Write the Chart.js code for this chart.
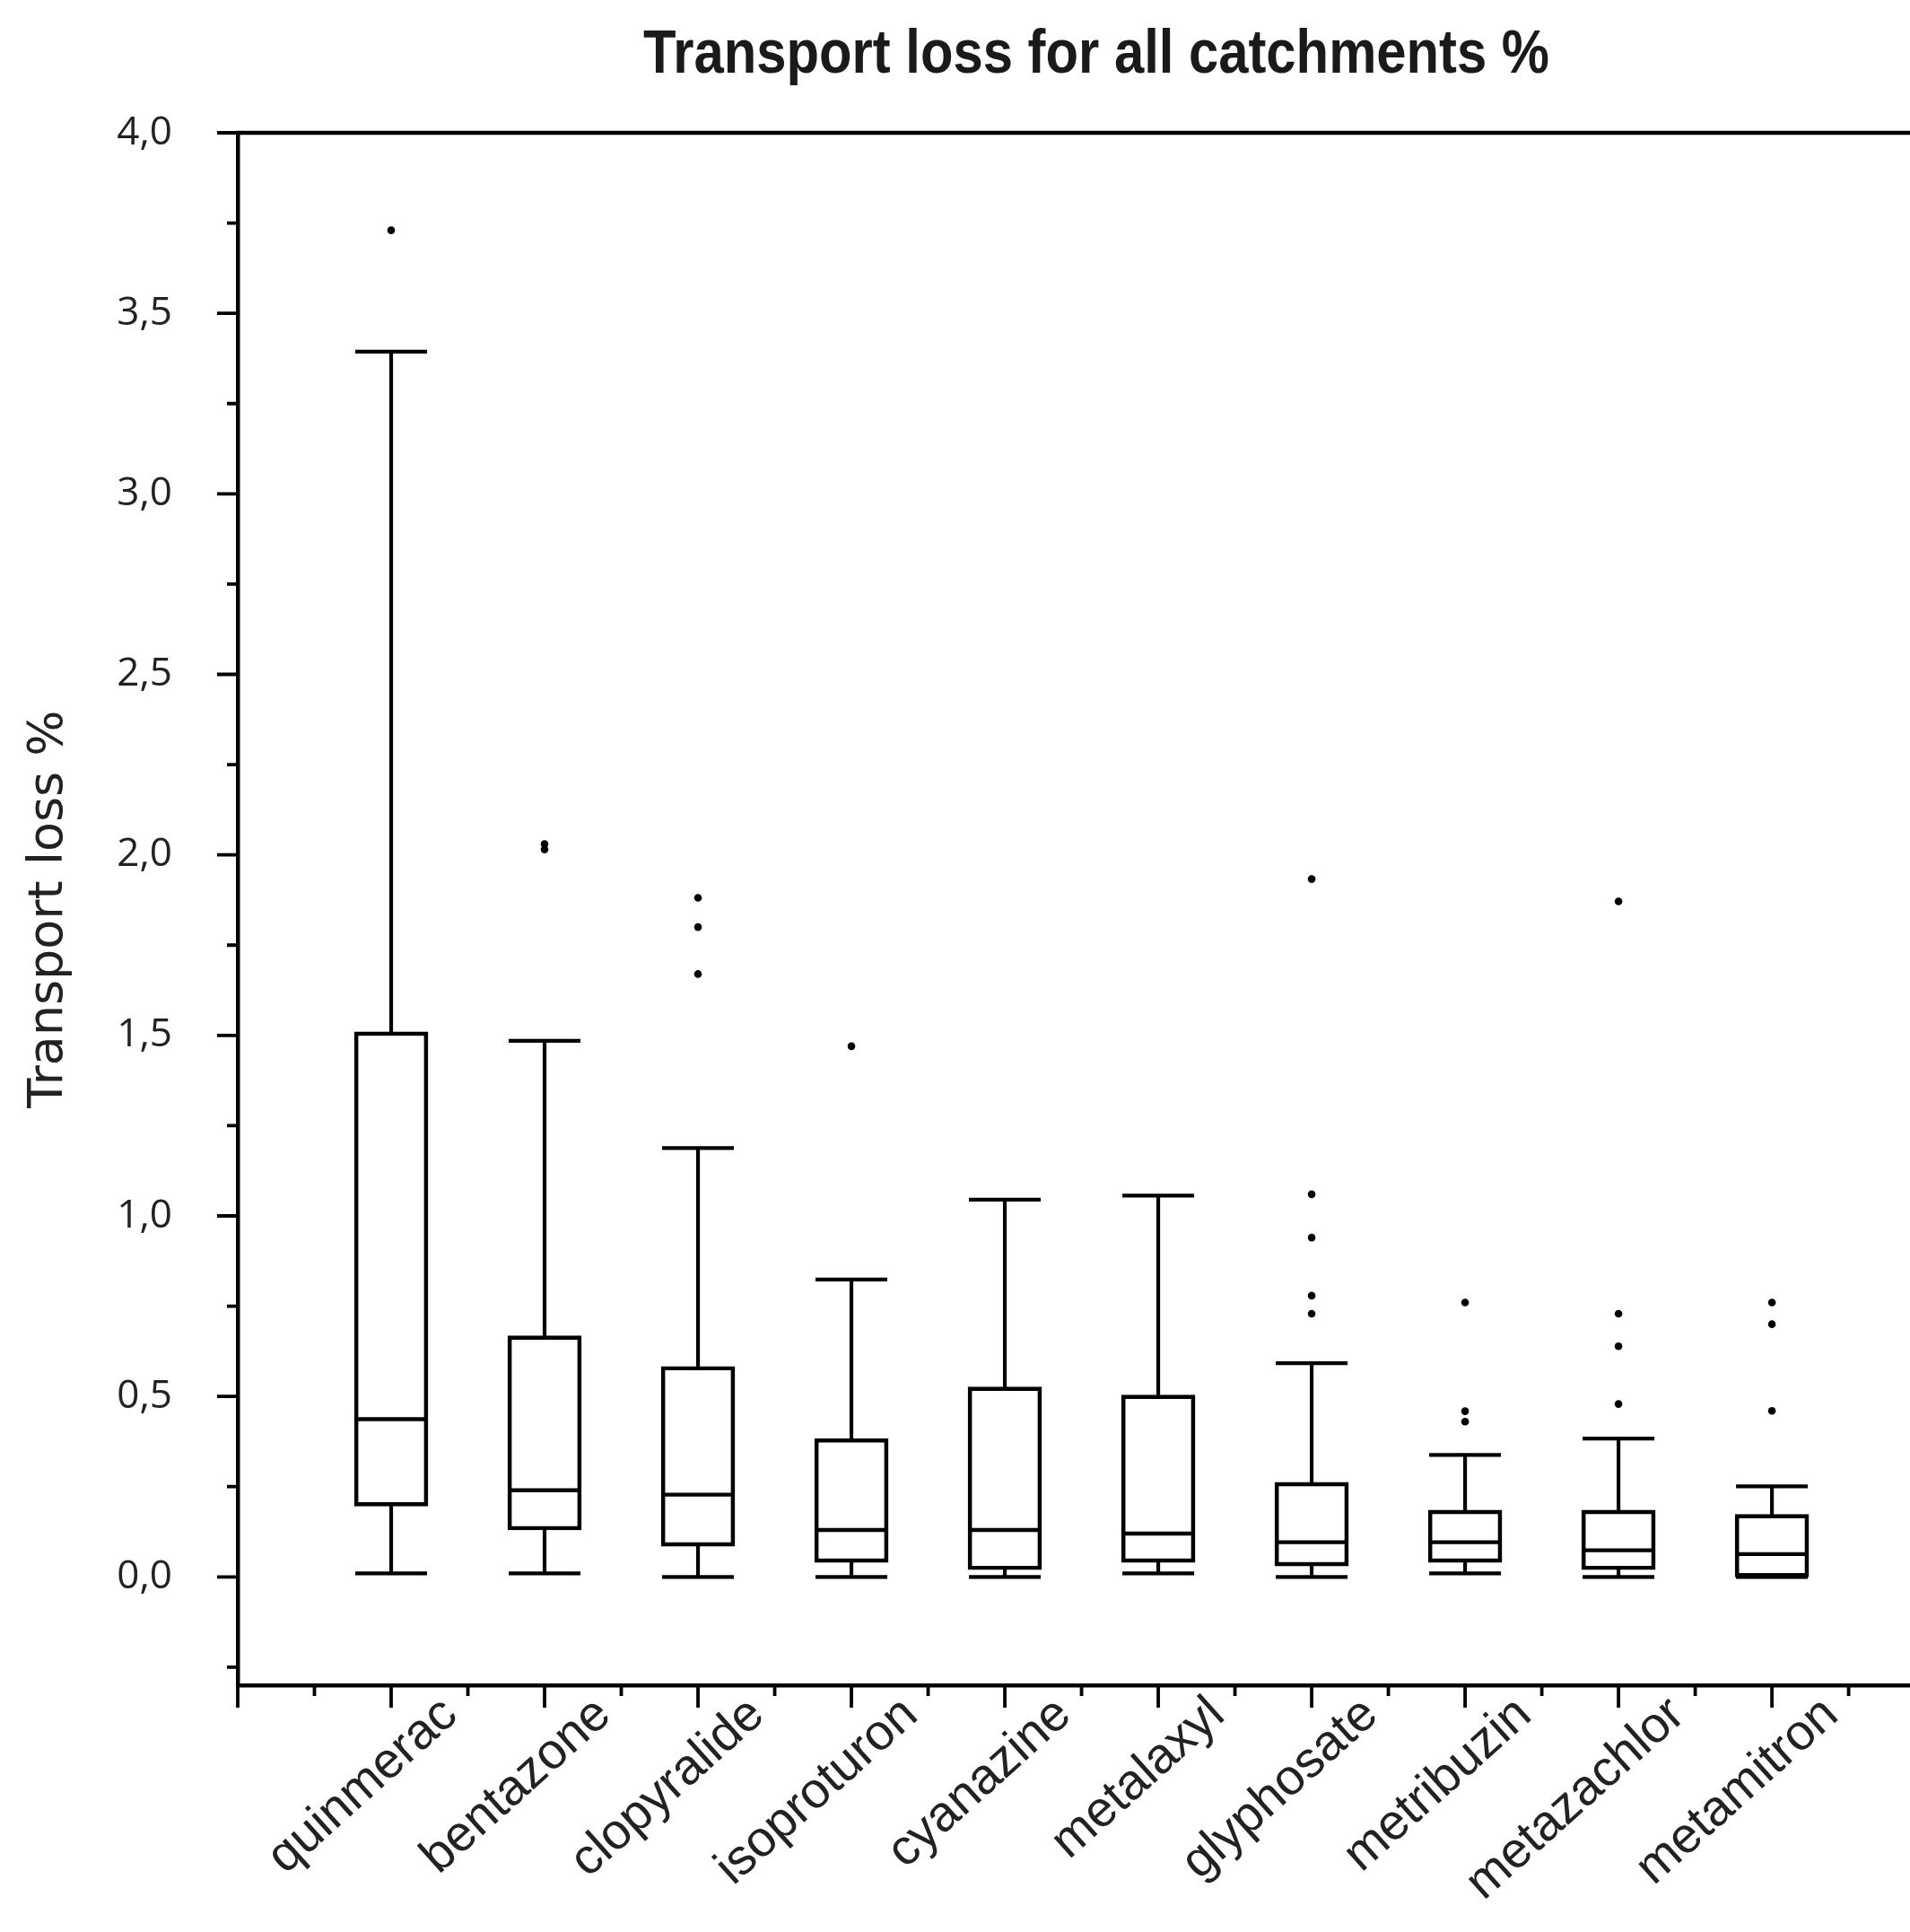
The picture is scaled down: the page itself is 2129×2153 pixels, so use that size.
<!DOCTYPE html>
<html lang="en">
<head>
    <meta charset="UTF-8">
    <title>Transport loss for all catchments %</title>
    <script src="https://cdn.jsdelivr.net/npm/chart.js"></script>
    <style>
        html, body { margin: 0; padding: 0; background: #fff; }
        #chart { display: block; }
    </style>
</head>
<body>
    <canvas id="chart" width="2129" height="2153"></canvas>

    <script>
        // values (transport loss, %)
        const categories = ["quinmerac", "bentazone", "clopyralide", "isoproturon", "cyanazine",
                            "metalaxyl", "glyphosate", "metribuzin", "metazachlor", "metamitron"];
        const whiskerLow  = [0.01, 0.01, 0.0, 0.0, 0.0, 0.01, 0.0, 0.01, 0.0, 0.0];
        const q1          = [0.196, 0.13, 0.085, 0.04, 0.02, 0.04, 0.03, 0.04, 0.02, 0.0];
        const median      = [0.437, 0.24, 0.228, 0.13, 0.13, 0.12, 0.096, 0.096, 0.074, 0.063];
        const q3          = [1.51, 0.668, 0.583, 0.383, 0.526, 0.504, 0.262, 0.185, 0.185, 0.173];
        const whiskerHigh = [3.394, 1.485, 1.188, 0.824, 1.045, 1.056, 0.592, 0.338, 0.383, 0.251];
        const outliers = [
            [3.73],
            [2.03, 2.015],
            [1.881, 1.80, 1.67],
            [1.47],
            [],
            [],
            [1.933, 1.06, 0.94, 0.779, 0.729],
            [0.76, 0.459, 0.43],
            [1.871, 0.729, 0.639, 0.479],
            [0.76, 0.70, 0.46]
        ];

        // axis ticks
        const yMajorTicks = [0.0, 0.5, 1.0, 1.5, 2.0, 2.5, 3.0, 3.5, 4.0];
        const yMinorTicks = [-0.25, 0.25, 0.75, 1.25, 1.75, 2.25, 2.75, 3.25, 3.75];
        const xMajorTicks = [0, 1, 2, 3, 4, 5, 6, 7, 8, 9, 10];
        const xMinorTicks = [0.5, 1.5, 2.5, 3.5, 4.5, 5.5, 6.5, 7.5, 8.5, 9.5, 10.5];

        const chartTitle = 'Transport loss for all catchments %';

        const pos = categories.map((_, i) => i + 1);
        const pts = arr => arr.map((v, i) => ({ x: pos[i], y: v }));

        // tick marks (long/short), the top frame line and the narrow bold title
        const axisMarks = {
            id: 'axisMarks',
            afterDraw(chart) {
                const { ctx, chartArea: area, scales: { x, y } } = chart;
                ctx.save();
                ctx.strokeStyle = '#000';
                ctx.lineWidth = 4.5;
                ctx.beginPath();
                ctx.moveTo(area.left - 2, area.top);
                ctx.lineTo(area.right, area.top);
                ctx.stroke();

                ctx.lineWidth = 3.8;
                ctx.beginPath();
                yMajorTicks.forEach(v => {
                    const p = y.getPixelForValue(v);
                    ctx.moveTo(area.left - 23, p); ctx.lineTo(area.left, p);
                });
                yMinorTicks.forEach(v => {
                    const p = y.getPixelForValue(v);
                    ctx.moveTo(area.left - 12, p); ctx.lineTo(area.left, p);
                });
                xMajorTicks.forEach(v => {
                    const p = x.getPixelForValue(v);
                    ctx.moveTo(p, area.bottom); ctx.lineTo(p, area.bottom + 25);
                });
                xMinorTicks.forEach(v => {
                    const p = x.getPixelForValue(v);
                    ctx.moveTo(p, area.bottom); ctx.lineTo(p, area.bottom + 12);
                });
                ctx.stroke();

                // title, squeezed like a narrow bold face
                ctx.font = "bold 68px 'Liberation Sans', Arial, sans-serif";
                ctx.fillStyle = '#1a1a1a';
                ctx.textAlign = 'center';
                ctx.textBaseline = 'alphabetic';
                const w = ctx.measureText(chartTitle).width;
                ctx.translate(1222, 81);
                ctx.scale(1010 / w, 1);
                ctx.fillText(chartTitle, 0, 0);
                ctx.restore();
            }
        };

        new Chart(document.getElementById('chart'), {
            type: 'bar',
            data: {
                datasets: [
                    {
                        type: 'scatter',
                        label: 'outliers',
                        data: outliers.flatMap((vals, i) => vals.map(v => ({ x: pos[i], y: v }))),
                        pointStyle: 'circle',
                        radius: 4.3,
                        backgroundColor: '#000',
                        borderWidth: 0
                    },
                    {
                        type: 'scatter',
                        label: 'median',
                        data: pts(median),
                        pointStyle: 'line',
                        radius: 40,
                        borderColor: '#000',
                        borderWidth: 4.3
                    },
                    {
                        type: 'scatter',
                        label: 'caps',
                        data: pts(whiskerLow).concat(pts(whiskerHigh)),
                        pointStyle: 'line',
                        radius: 40,
                        borderColor: '#000',
                        borderWidth: 4.3
                    },
                    {
                        label: 'box',
                        data: q1.map((v, i) => ({ x: pos[i], y: [v, q3[i]] })),
                        backgroundColor: '#fff',
                        borderColor: '#000',
                        borderWidth: 4.7,
                        borderSkipped: false,
                        barThickness: 82,
                        grouped: false
                    },
                    {
                        label: 'upper whisker',
                        data: q3.map((v, i) => ({ x: pos[i], y: [v, whiskerHigh[i]] })),
                        backgroundColor: '#000',
                        borderWidth: 0,
                        barThickness: 3.5,
                        grouped: false
                    },
                    {
                        label: 'lower whisker',
                        data: q1.map((v, i) => ({ x: pos[i], y: [whiskerLow[i], v] })),
                        backgroundColor: '#000',
                        borderWidth: 0,
                        barThickness: 3.5,
                        grouped: false
                    }
                ]
            },
            options: {
                responsive: false,
                animation: false,
                layout: { autoPadding: false, padding: { top: 148, left: 0, right: 0, bottom: 0 } },
                plugins: {
                    legend: { display: false },
                    tooltip: { enabled: false },
                    title: { display: false }
                },
                scales: {
                    x: {
                        type: 'linear',
                        min: 0,
                        max: 10.9,
                        offset: false,
                        grid: { display: false, drawTicks: false },
                        border: { display: true, color: '#000', width: 4.5 },
                        afterBuildTicks: s => { s.ticks = xMajorTicks.concat(xMinorTicks).sort((a, b) => a - b).map(v => ({ value: v })); },
                        afterFit: s => { s.height = 275; s.paddingLeft = 0; s.paddingRight = 0; },
                        ticks: {
                            autoSkip: false,
                            minRotation: 42,
                            maxRotation: 42,
                            padding: 0,
                            labelOffset: 66,
                            color: '#222',
                            font: { family: "'Liberation Sans', Arial, sans-serif", size: 56 },
                            callback: v => (Number.isInteger(v) && v >= 1 && v <= categories.length) ? categories[v - 1] : null
                        }
                    },
                    y: {
                        type: 'linear',
                        min: -0.3,
                        max: 4.0,
                        grid: { display: false, drawTicks: false },
                        border: { display: true, color: '#000', width: 4.5 },
                        afterBuildTicks: s => { s.ticks = yMajorTicks.map(v => ({ value: v })); },
                        afterFit: s => { s.width = 265; },
                        ticks: {
                            padding: 73,
                            color: '#222',
                            font: { family: "'Open Sans', sans-serif", size: 44 },
                            callback: v => v.toFixed(1).replace('.', ',')
                        },
                        title: {
                            display: true,
                            text: 'Transport loss %',
                            color: '#222',
                            font: { family: "'DejaVu Sans', sans-serif", size: 54 },
                            padding: { top: 23, bottom: 0 }
                        }
                    }
                }
            },
            plugins: [axisMarks]
        });
    </script>
</body>
</html>
